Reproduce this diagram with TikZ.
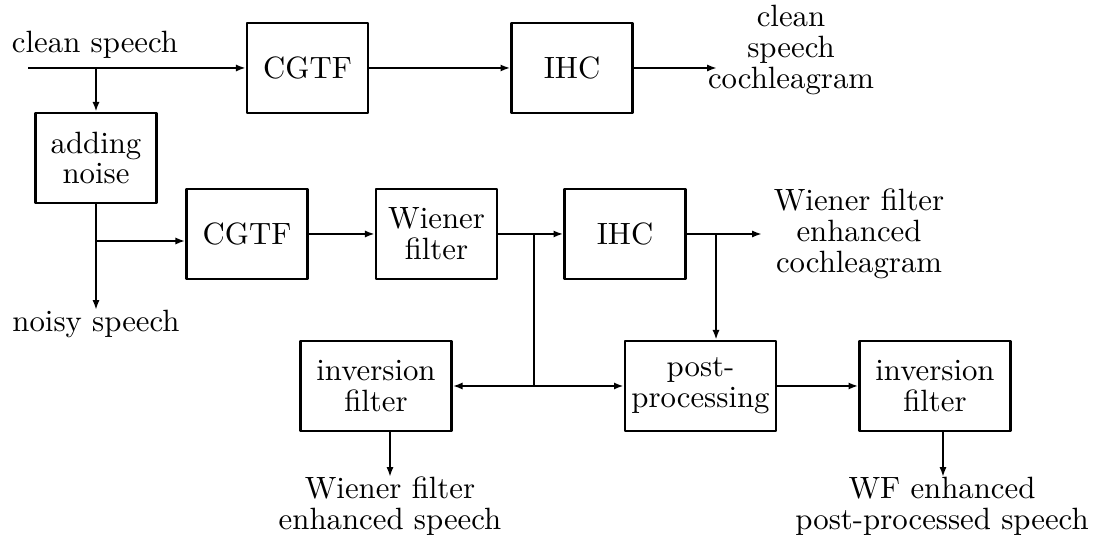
\documentclass[tikz,border=0pt]{standalone}
\usetikzlibrary{arrows.meta}
\begin{document}
\begin{tikzpicture}[x=0.3247pt,y=-0.3247pt,
  font=\fontsize{10}{10}\selectfont,
  blk/.style={draw, line width=0.75pt, line join=round, minimum height=90*0.3247pt, inner sep=0pt, align=center},
  w1/.style={minimum width=121*0.3247pt},
  w2/.style={minimum width=151*0.3247pt},
  lbl/.style={align=center, inner sep=0pt},
  conn/.style={line width=0.75pt},
  arr/.style={conn, -{Latex[length=3.2pt,width=2.3pt]}}]
\useasboundingbox (0,0) rectangle (1100,539);

% blocks
\node[blk,w1] (cgtf1) at (307.5,68) {CGTF};
\node[blk,w1] (ihc1) at (572,68) {IHC};
\node[blk,w1] (add) at (96,158) {adding\\noise};
\node[blk,w1] (cgtf2) at (247,234) {CGTF};
\node[blk,w1] (wf) at (436.5,234) {Wiener\\filter};
\node[blk,w1] (ihc2) at (625,234) {IHC};
\node[blk,w2] (inv1) at (376,386) {inversion\\filter};
\node[blk,w2] (pp) at (700.5,386) {post-\\processing};
\node[blk,w2] (inv2) at (935,386) {inversion\\filter};

% labels
\node[lbl] (cs) at (95,45) {clean speech};
\node[lbl] (csc) at (791,50) {clean\\speech\\cochleagram};
\node[lbl] (ns) at (96,324) {noisy speech};
\node[lbl] (wfc) at (859,234) {Wiener filter\\enhanced\\cochleagram};
\node[lbl] (wfs) at (390,506) {Wiener filter\\enhanced speech};
\node[lbl] (pps) at (942,506) {WF enhanced\\post-processed speech};

% coordinates
\coordinate (in) at (28,68);
\coordinate (j1) at (96,68);
\coordinate (j1b) at (96,241);
\coordinate (j2) at (534,234);
\coordinate (j2b) at (534,386);
\coordinate (j3) at (716,234);
\coordinate (o1) at (717,68);
\coordinate (o2) at (762,234);
\coordinate (nstip) at (96,310);
\coordinate (o3) at (390,477);
\coordinate (o4) at (943,477);

% connectors
\draw[arr] (in) -- (cgtf1.west);
\draw[arr] (j1) -- (add.north);
\draw[arr] (cgtf1) -- (ihc1);
\draw[arr] (ihc1.east) -- (o1);
\draw[arr] (add.south) -- (nstip);
\draw[arr] (j1b) -- (j1b -| cgtf2.west);
\draw[arr] (cgtf2) -- (wf);
\draw[arr] (wf) -- (ihc2);
\draw[arr] (ihc2.east) -- (o2);
\draw[arr] (j3) -- (j3 |- pp.north);
\draw[conn] (j2) -- (j2b);
\draw[arr] (j2b) -- (inv1.east);
\draw[arr] (j2b) -- (pp.west);
\draw[arr] (pp) -- (inv2);
\draw[arr] (o3 |- inv1.south) -- (o3);
\draw[arr] (o4 |- inv2.south) -- (o4);
\end{tikzpicture}
\end{document}
